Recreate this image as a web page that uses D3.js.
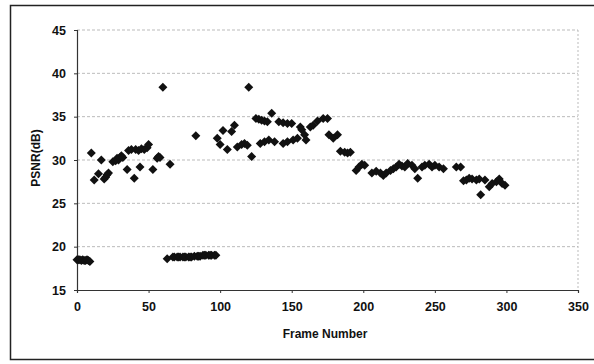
<!DOCTYPE html>
<html>
<head>
<meta charset="utf-8">
<script src="https://cdn.jsdelivr.net/npm/d3@7"></script>
<style>
  body { margin: 0; background: #fff; }
  text { font-family: "Liberation Sans", Arial, sans-serif; }
</style>
</head>
<body>
<div id="chart"></div>
<script>
// frame numbers and PSNR values (dB)
const frames = [
  0, 1, 2, 3, 4, 5, 6, 7, 8, 9,
  10, 12, 15, 17, 19, 20, 21, 22, 25, 27, 28, 29, 30, 31, 32, 35, 36, 38, 40, 41,
  43, 44, 45, 47, 49, 50, 53, 56, 57, 58, 60, 63, 65,
  67, 68, 70, 71, 72, 74, 75, 76, 78, 79, 80, 82, 84, 85, 86, 88, 89, 90, 92, 93, 94, 96, 97,
  83,
  98, 100, 102, 105, 108, 110, 112, 115, 117, 119, 120, 122,
  125, 127, 129, 131, 133, 136, 128, 131, 134, 138,
  141, 144, 147, 150, 144, 147, 151, 154, 156, 157, 159, 160,
  163, 165, 168, 172, 175, 176, 179, 182, 184, 187, 189, 191,
  195, 197, 199, 201, 206, 209, 212, 214, 216, 219, 221, 223, 225, 227, 229, 231,
  234, 236, 238, 241, 243, 246, 248, 250, 253, 256, 265, 268,
  270, 272, 274, 276, 279, 281, 282, 285, 288, 290, 293, 295, 297, 299
];
const psnr = [
  18.5, 18.5, 18.5, 18.4, 18.5, 18.4, 18.4, 18.5, 18.4, 18.3,
  30.8, 27.7, 28.4, 30.0, 27.8, 28.0, 28.3, 28.5, 29.8, 29.9, 30.2, 30.0, 30.3, 30.5, 30.3, 28.9, 31.1, 31.2, 27.9, 31.2,
  31.1, 29.2, 31.3, 31.2, 31.4, 31.8, 28.9, 30.2, 30.4, 30.3, 38.4, 18.6, 29.5,
  18.8, 18.8, 18.8, 18.8, 18.8, 18.8, 18.8, 18.8, 18.8, 18.8, 18.8, 18.9, 18.9, 18.9, 18.9, 19.0, 19.0, 19.0, 19.0, 19.0, 19.0, 19.0, 19.0,
  32.8,
  32.5, 31.8, 33.4, 31.2, 33.3, 34.0, 31.5, 31.8, 31.9, 31.7, 38.4, 30.4,
  34.8, 34.7, 34.6, 34.5, 34.4, 35.4, 31.9, 32.1, 32.3, 32.1,
  34.4, 34.3, 34.2, 34.2, 31.9, 32.1, 32.3, 32.5, 33.8, 33.5, 32.9, 32.3,
  33.8, 34.0, 34.5, 34.8, 34.8, 32.9, 32.5, 32.9, 31.0, 30.9, 30.8, 30.9,
  28.8, 29.2, 29.5, 29.4, 28.5, 28.7, 28.5, 28.2, 28.5, 28.8, 29.0, 29.2, 29.5, 29.3, 29.2, 29.6,
  29.4, 29.0, 27.9, 29.2, 29.4, 29.5, 29.2, 29.4, 29.2, 29.0, 29.2, 29.2,
  27.6, 27.7, 27.9, 27.8, 27.7, 27.8, 26.0, 27.7, 26.9, 27.3, 27.5, 27.8, 27.3, 27.1
];
const xTicks = [0, 50, 100, 150, 200, 250, 300, 350];
const yTicks = [15, 20, 25, 30, 35, 40, 45];

const width = 594;
const height = 364;
const margin = { top: 30, right: 16, bottom: 74, left: 77 };

const svg = d3.select('#chart')
  .append('svg')
  .attr('width', width)
  .attr('height', height);

// outer chart frame (right edge is cut off in the picture)
svg.append('rect')
  .attr('x', 10.5).attr('y', 5.5)
  .attr('width', 600).attr('height', 354)
  .attr('fill', 'none')
  .attr('stroke', '#222')
  .attr('stroke-width', 1.5);

// scales
const x = d3.scaleLinear().domain([0, 350]).range([margin.left, width - margin.right]);
const y = d3.scaleLinear().domain([15, 45]).range([height - margin.bottom, margin.top]);

// gridlines
svg.append('g')
  .selectAll('line')
  .data(yTicks.filter(d => d > 15))
  .join('line')
  .attr('x1', x(0)).attr('x2', x(350))
  .attr('y1', d => y(d)).attr('y2', d => y(d))
  .attr('stroke', '#aaa')
  .attr('stroke-width', 0.8)
  .attr('stroke-dasharray', '3,2');

// plot area right edge
svg.append('line')
  .attr('x1', x(350)).attr('x2', x(350))
  .attr('y1', y(45)).attr('y2', y(15))
  .attr('stroke', '#aaa')
  .attr('stroke-width', 0.8)
  .attr('stroke-dasharray', '2,2');

// x axis
const xAxis = svg.append('g')
  .attr('transform', `translate(0,${y(15)})`)
  .call(d3.axisBottom(x).tickValues(xTicks).tickSize(3).tickPadding(9).tickFormat(d3.format('d')));

// y axis
const yAxis = svg.append('g')
  .attr('transform', `translate(${x(0)},0)`)
  .call(d3.axisLeft(y).tickValues(yTicks).tickSize(3).tickPadding(8).tickFormat(d3.format('d')));

[xAxis, yAxis].forEach(g => {
  g.select('.domain').attr('stroke', '#333').attr('stroke-width', 1.2);
  g.selectAll('.tick line').attr('stroke', '#333');
  g.selectAll('.tick text')
    .attr('fill', '#111')
    .style('font-family', '"Liberation Sans", Arial, sans-serif')
    .style('font-size', '12.5px')
    .style('font-weight', 'bold');
});

// data points as diamonds
const diamond = 'M0,-4.5L4.5,0L0,4.5L-4.5,0Z';
svg.append('g')
  .selectAll('path')
  .data(frames.map((f, i) => ({ f: f, v: psnr[i] })))
  .join('path')
  .attr('d', diamond)
  .attr('transform', d => `translate(${x(d.f)},${y(d.v)})`)
  .attr('fill', '#111');

// axis titles
svg.append('text')
  .attr('x', 325).attr('y', 338)
  .attr('text-anchor', 'middle')
  .style('font-size', '12px')
  .style('font-weight', 'bold')
  .attr('fill', '#111')
  .text('Frame Number');

svg.append('text')
  .attr('transform', 'translate(40,158) rotate(-90)')
  .attr('text-anchor', 'middle')
  .style('font-size', '12px')
  .style('font-weight', 'bold')
  .attr('fill', '#111')
  .text('PSNR(dB)');
</script>
</body>
</html>
